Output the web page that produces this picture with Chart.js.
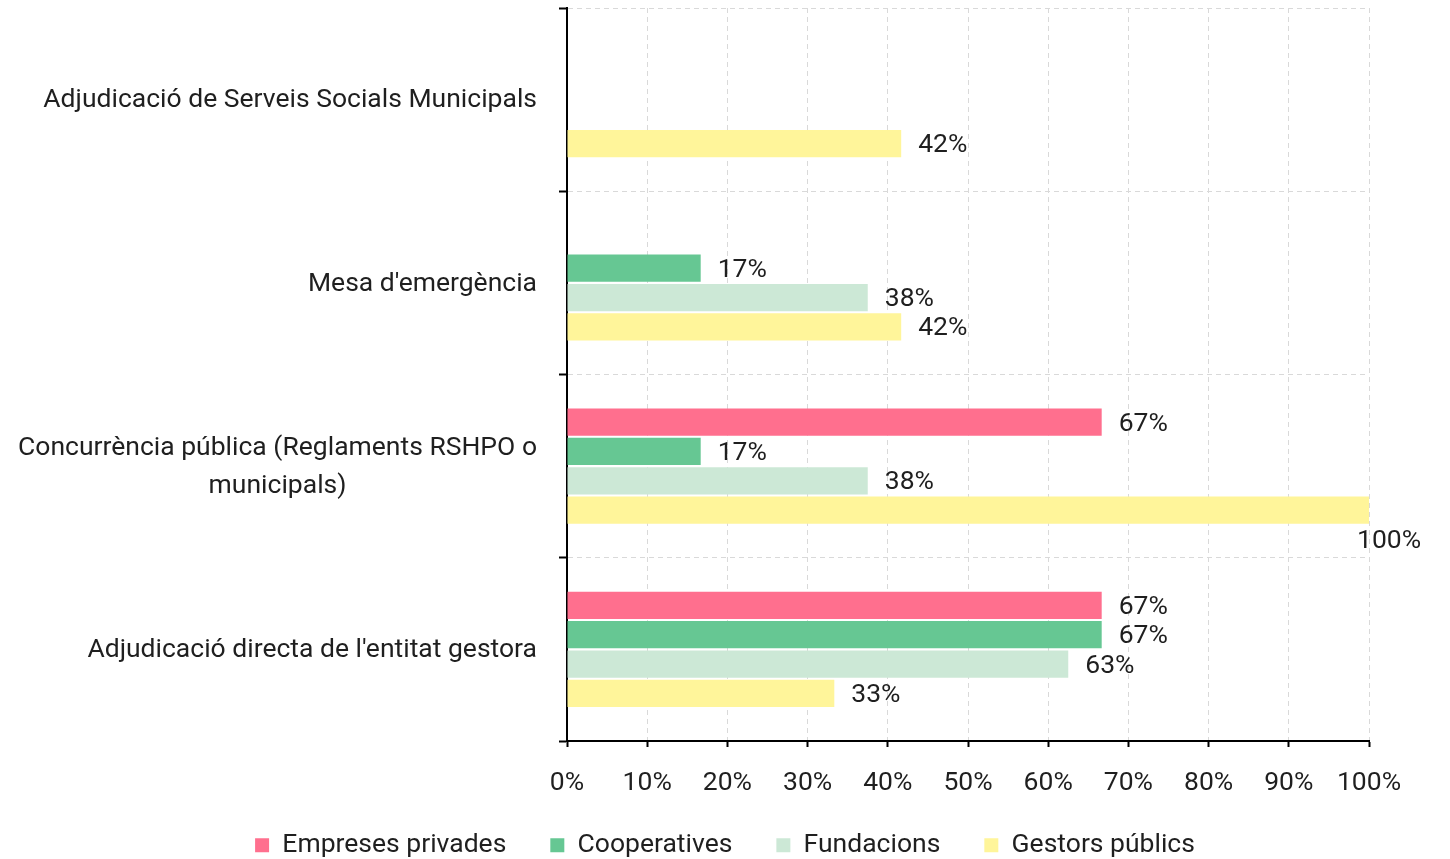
<!DOCTYPE html>
<html>
<head>
<meta charset="utf-8">
<script src="https://cdn.jsdelivr.net/npm/chart.js@4/dist/chart.umd.min.js"></script>
<style>
  html, body { margin: 0; padding: 0; background: #ffffff; }
  #wrap { width: 1450px; height: 859px; position: relative; }
</style>
</head>
<body>
<div id="wrap"><canvas id="c"></canvas></div>
<script>
const categories = [
  "Adjudicació de Serveis Socials Municipals",
  "Mesa d'emergència",
  "Concurrència pública (Reglaments RSHPO o municipals)",
  "Adjudicació directa de l'entitat gestora"
];
const categoryLines = [
  ["Adjudicació de Serveis Socials Municipals"],
  ["Mesa d'emergència"],
  ["Concurrència pública (Reglaments RSHPO o", "municipals)"],
  ["Adjudicació directa de l'entitat gestora"]
];
const seriesNames = ["Empreses privades", "Cooperatives", "Fundacions", "Gestors públics"];
const empresesPrivades = [null, null, 66.67, 66.67];
const cooperatives = [null, 16.67, 16.67, 66.67];
const fundacions = [null, 37.5, 37.5, 62.5];
const gestorsPublics = [41.67, 41.67, 100, 33.33];
const xTicks = [0, 10, 20, 30, 40, 50, 60, 70, 80, 90, 100];

const colors = ["#FF6F8E", "#66C793", "#CCE8D6", "#FFF59A"];
const FONT = "Roboto";
const FS = 26.5;
const TXT = "#1f1f1f";

const valueLabels = {
  id: 'valueLabels',
  afterDatasetsDraw(chart) {
    const ctx = chart.ctx;
    ctx.save();
    ctx.font = FS + "px " + FONT;
    ctx.fillStyle = TXT;
    ctx.textBaseline = 'middle';
    ctx.textAlign = 'left';
    chart.data.datasets.forEach((ds, di) => {
      const meta = chart.getDatasetMeta(di);
      meta.data.forEach((el, i) => {
        const v = ds.data[i];
        if (v === null || v === undefined) return;
        const t = Math.round(v) + '%';
        const w = ctx.measureText(t).width;
        let x = el.x + 17, y = el.y + 2;
        if (x + w > chart.width - 2) { x = el.x - 12; y = el.y + 31; }
        ctx.fillText(t, x, y);
      });
    });
    ctx.restore();
  }
};

const yLabels = {
  id: 'yLabels',
  afterDraw(chart) {
    const ctx = chart.ctx;
    const sc = chart.scales.y;
    ctx.save();
    ctx.font = FS + "px " + FONT;
    ctx.fillStyle = TXT;
    ctx.textBaseline = 'middle';
    ctx.textAlign = 'center';
    const right = chart.chartArea.left - 30;
    const lh = 38;
    categoryLines.forEach((lines, i) => {
      const cy = sc.getPixelForTick(i) + 1;
      const maxW = Math.max(...lines.map(l => ctx.measureText(l).width));
      const cx = right - maxW / 2;
      const y0 = cy - (lines.length - 1) * lh / 2;
      lines.forEach((l, k) => ctx.fillText(l, cx, y0 + k * lh));
    });
    ctx.restore();
  }
};

// move the legend row up so it sits where the reference has it
const legendShift = {
  id: 'legendShift',
  afterLayout(chart) {
    const lg = chart.legend;
    if (lg) { lg.top -= 15; }
  }
};

const dataArrays = [empresesPrivades, cooperatives, fundacions, gestorsPublics];

new Chart(document.getElementById('c'), {
  type: 'bar',
  data: {
    labels: categories,
    datasets: seriesNames.map((n, i) => ({
      label: n,
      data: dataArrays[i],
      backgroundColor: colors[i],
      borderWidth: 0,
      barPercentage: 0.93,
      categoryPercentage: 0.64,
      yAxisID: 'y'
    }))
  },
  options: {
    indexAxis: 'y',
    responsive: true,
    maintainAspectRatio: false,
    animation: false,
    layout: { padding: { top: 8, right: 0, left: 0, bottom: 0 } },
    font: { family: FONT },
    scales: {
      x: {
        min: 0, max: 100,
        afterBuildTicks: (s) => { s.ticks = xTicks.map(v => ({ value: v })); },
        afterFit: (s) => { s.height = 62; },
        ticks: {
          callback: (v) => v + '%',
          color: TXT,
          font: { family: FONT, size: FS },
          padding: 20,
          maxRotation: 0
        },
        grid: {
          color: '#d9d9d9',
          tickColor: '#000',
          tickLength: 6,
          tickWidth: 2,
          tickBorderDash: [],
          lineWidth: 1
        },
        border: { color: '#000', width: 2, dash: [5, 4] }
      },
      y: {
        afterFit: (s) => { s.width = 567; },
        ticks: { color: 'rgba(0,0,0,0)', font: { family: FONT, size: 1 } },
        grid: {
          color: '#d9d9d9',
          tickColor: '#000',
          tickLength: 8,
          tickWidth: 2,
          tickBorderDash: [],
          lineWidth: 1
        },
        border: { color: '#000', width: 2, dash: [5, 4] }
      },
      y2: {
        type: 'category',
        position: 'right',
        labels: categories,
        display: true,
        grid: { display: false, drawTicks: false },
        ticks: { display: false },
        border: { display: false },
        afterFit: (s) => { s.width = 81; }
      }
    },
    plugins: {
      legend: {
        position: 'bottom',
        maxHeight: 56,
        labels: {
          boxWidth: 14, boxHeight: 14,
          padding: 44,
          color: TXT,
          font: { family: FONT, size: FS }
        }
      },
      tooltip: { enabled: false }
    }
  },
  plugins: [valueLabels, yLabels, legendShift]
});
</script>
</body>
</html>
